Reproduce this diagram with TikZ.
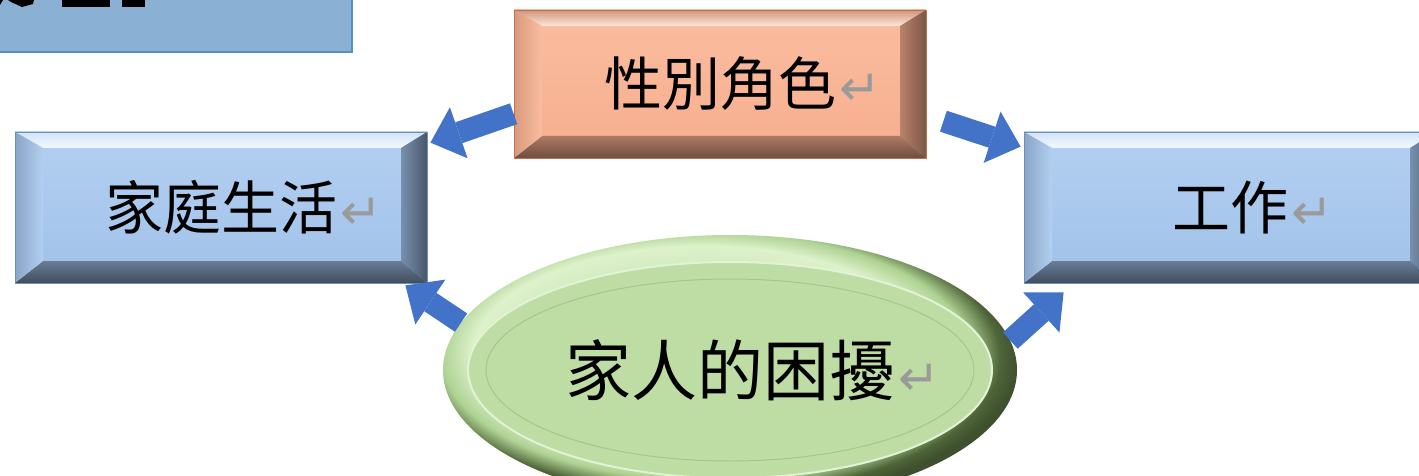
\documentclass[tikz,border=0pt]{standalone}
\usepackage{fontspec}
\usetikzlibrary{shapes.geometric,arrows.meta,calc}
\newfontfamily\cjk{Noto Sans CJK TC}
\newfontfamily\symfont{DejaVu Sans}

\definecolor{titleFill}{HTML}{8AB1D3}
\definecolor{titleEdge}{HTML}{5690C2}
\definecolor{bFaceT}{HTML}{B3D0F1}
\definecolor{bFaceB}{HTML}{A1C1E9}
\definecolor{bLine}{HTML}{6D8FB8}
\definecolor{sFaceT}{HTML}{FABD9F}
\definecolor{sFaceB}{HTML}{F6AE8E}
\definecolor{sLine}{HTML}{B87252}
\definecolor{gHigh}{HTML}{DDF1CB}
\definecolor{gMid}{HTML}{AED293}
\definecolor{gDark}{HTML}{4E6438}
\definecolor{gInner}{HTML}{BEDDA4}
\definecolor{gRing}{HTML}{E2F2D4}
\definecolor{gLine}{HTML}{A3C788}
\definecolor{arrBlue}{HTML}{4273C8}
\definecolor{retgray}{HTML}{9A9A9A}

\pgfdeclareradialshading{ringshade}{\pgfpoint{-4bp}{5bp}}{%
  color(0bp)=(gMid); color(20bp)=(gHigh); color(23bp)=(gMid);
  color(25.5bp)=(gDark); color(27bp)=(gDark!80!black); color(50bp)=(gDark!80!black)}

% bevel edges of a button, drawn inside the node
\newcommand\bevel[4]{%
  \path (path picture bounding box.north west) coordinate (bnw)
        (path picture bounding box.north east) coordinate (bne)
        (path picture bounding box.south east) coordinate (bse)
        (path picture bounding box.south west) coordinate (bsw);
  \shade[#1] (bnw) -- (bne) -- ([shift={(-26pt,-16pt)}]bne) -- ([shift={(28pt,-16pt)}]bnw) -- cycle;
  \shade[#2] (bne) -- (bse) -- ([shift={(-26pt,22pt)}]bse) -- ([shift={(-26pt,-16pt)}]bne) -- cycle;
  \shade[#3] (bse) -- (bsw) -- ([shift={(28pt,22pt)}]bsw) -- ([shift={(-26pt,22pt)}]bse) -- cycle;
  \shade[#4] (bsw) -- (bnw) -- ([shift={(28pt,-16pt)}]bnw) -- ([shift={(28pt,22pt)}]bsw) -- cycle;
}
\newcommand\retmark{\rlap{\kern3pt\textcolor{retgray}{\symfont\fontsize{50}{50}\selectfont ↵}}}

\tikzset{
  titlebox/.style={rectangle, inner sep=0pt, fill=titleFill},
  titleedge/.style={draw=titleEdge, line width=2pt},
  bluebox/.style={rectangle, inner sep=0pt, minimum width=412pt, minimum height=151pt,
    top color=bFaceT, bottom color=bFaceB, draw=bLine, line width=0.8pt,
    font=\cjk\fontsize{58}{58}\selectfont,
    path picture={\bevel{top color=bFaceT!60!white, bottom color=white!85!bFaceT}%
      {left color=bFaceB!75!black, right color=bFaceB!45!black}%
      {top color=bFaceB!65!black, bottom color=bFaceB!40!black}%
      {left color=bFaceB!85!black, right color=bFaceT}}},
  salmonbox/.style={rectangle, inner sep=0pt, minimum width=412pt, minimum height=148pt,
    top color=sFaceT, bottom color=sFaceB, draw=sLine, line width=0.8pt,
    font=\cjk\fontsize{58}{58}\selectfont,
    path picture={\bevel{top color=sFaceB!85!black, bottom color=white!65!sFaceT}%
      {left color=sFaceB!75!black, right color=sFaceB!50!black}%
      {top color=sFaceB!70!black, bottom color=sFaceB!45!black}%
      {left color=sFaceB!88!black, right color=sFaceT}}},
  greenoval/.style={ellipse, inner sep=0pt, minimum width=574pt, minimum height=270pt,
    shading=ringshade, font=\cjk\fontsize{66}{66}\selectfont,
    path picture={
      \fill[gInner] (path picture bounding box.center) ellipse [x radius=262pt, y radius=108pt];
      \draw[gRing, line width=2pt] (path picture bounding box.center) ellipse [x radius=262pt, y radius=108pt];
      \draw[gLine, line width=1pt] (path picture bounding box.center) ellipse [x radius=244pt, y radius=91pt];}},
  fatarrow/.style={draw=arrBlue, line width=22pt, -{Triangle[length=30pt,width=54pt,line width=0pt]}}
}

\begin{document}
\begin{tikzpicture}[x=1pt,y=-1pt]
 \useasboundingbox (0,0) rectangle (1419,476);
 \clip (0,0) rectangle (1419,476);
 \fill[white] (0,0) rectangle (1419,476);

 % cut-off heading box
 \node[titlebox, anchor=north west, minimum width=352pt, minimum height=52pt] (title) at (0,0) {};
 \draw[titleedge] (title.north east) -- (title.south east) -- (title.south west);
 \fill[black] (0,0) -- (3,0) -- (0,5) -- cycle;
 \fill[black] (8,0) -- (34,0) -- (33,4) -- (22,7) -- (11,2) -- cycle;
 \fill[black] (62,0) rectangle (110,7);
 \fill[black] (122,0) rectangle (145,7);

 \node[bluebox] (family) at (221,207.5) {家庭生活\retmark};
 \node[bluebox] (work) at (1230,207.5) {工作\retmark};
 \node[salmonbox] (gender) at (720,84) {性別角色\retmark};
 \node[greenoval] (trouble) at (730,370) {家人的困擾\retmark};

 \draw[fatarrow] ($(gender.south west)!0.3!(gender.north west)$) -- ($(family.north east)+(3,11)$);
 \draw[fatarrow] ($(gender.south east)!0.25!(gender.north east)+(17,0)$) -- ($(work.north west)+(-3,15)$);
 \draw[fatarrow] (trouble.170) -- ($(family.south east)+(-22,2)$);
 \draw[fatarrow] (trouble.6) -- ($(work.south west)+(40,9)$);
\end{tikzpicture}
\end{document}
